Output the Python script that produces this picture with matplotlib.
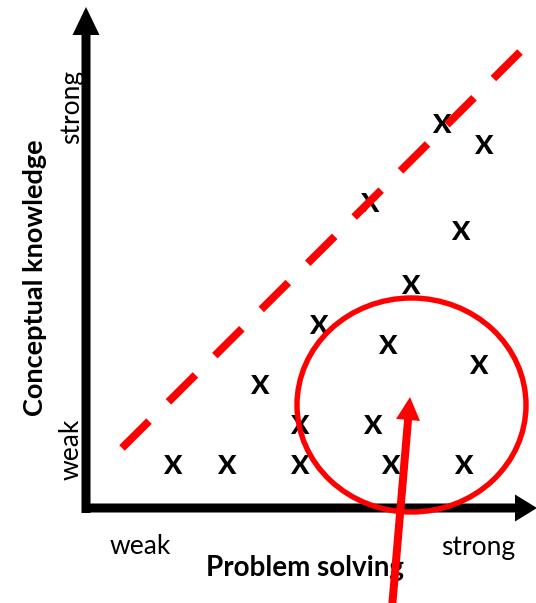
import matplotlib
matplotlib.use("Agg")
import matplotlib.pyplot as plt
from matplotlib.patches import Ellipse, FancyArrow

# ---- data (scores in chart units; origin at the axes corner) ----
problem_solving = [86, 140, 213, 304, 377, 213, 286, 173, 232, 301, 392, 324, 374, 283, 355, 397]
conceptual      = [42, 42, 42, 42, 42, 82, 82, 122, 182, 162, 142, 222, 276, 304, 383, 362]
marker_label = "X"

trend_x = [36, 434]
trend_y = [60, 456]

group_center = (325.5, 103)
group_size = (229, 214)

pointer_tail = (306, -100)
pointer_tip = (324, 111)

x_tick_labels = ["weak", "strong"]
y_tick_labels = ["weak", "strong"]
x_title = "Problem solving"
y_title = "Conceptual knowledge"

RED = "#FF0000"
FONT = "Lato"

fig = plt.figure(figsize=(5.36, 6.03), dpi=100)
ax = fig.add_axes([0, 0, 1, 1])
ax.set_xlim(-86, 450)
ax.set_ylim(-95, 508)
ax.axis("off")

# chart axes (thick black arrows)
ax.add_patch(FancyArrow(0, -5, 0, 506, width=9, head_width=27, head_length=28,
                        length_includes_head=True, color="black", lw=0, zorder=2))
ax.add_patch(FancyArrow(-1, 0, 452, 0, width=9, head_width=27, head_length=22,
                        length_includes_head=True, color="black", lw=0, zorder=2))

# data markers
for xv, yv in zip(problem_solving, conceptual):
    ax.text(xv, yv, marker_label, ha="center", va="center", fontsize=19.5,
            fontweight="black", family=FONT, color="black", zorder=3)

# dashed diagonal
line, = ax.plot(trend_x, trend_y, color=RED, lw=5.6, solid_capstyle="butt",
                dash_capstyle="butt", zorder=4)
line.set_dashes([4.9, 3.52])

# circle around group
ax.add_patch(Ellipse(group_center, group_size[0], group_size[1], fill=False,
                     edgecolor=RED, lw=3.9, zorder=4))

# pointer arrow
ax.add_patch(FancyArrow(pointer_tail[0], pointer_tail[1],
                        pointer_tip[0] - pointer_tail[0], pointer_tip[1] - pointer_tail[1],
                        width=8, head_width=24, head_length=23,
                        length_includes_head=True, color=RED, lw=0, zorder=6))

# labels
ax.text(54, -39, x_tick_labels[0], ha="center", va="center", fontsize=19, family=FONT)
ax.text(392, -40, x_tick_labels[1], ha="center", va="center", fontsize=19, family=FONT)
ax.text(219, -60, x_title, ha="center", va="center", fontsize=20, fontweight="bold",
        family=FONT, zorder=5)
ax.text(-15, 59, y_tick_labels[0], ha="center", va="center", fontsize=19, family=FONT,
        rotation=90)
ax.text(-14, 401, y_tick_labels[1], ha="center", va="center", fontsize=19, family=FONT,
        rotation=90)
ax.text(-51, 230, y_title, ha="center", va="center", fontsize=19.5, fontweight="bold",
        family=FONT, rotation=90)

fig.savefig("out.png", dpi=100)
